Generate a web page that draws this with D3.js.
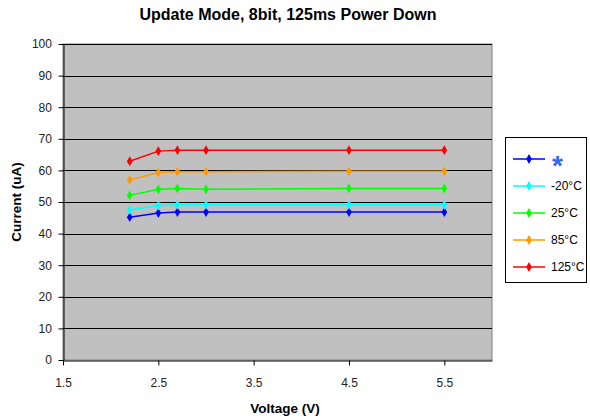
<!DOCTYPE html>
<html>
<head>
<meta charset="utf-8">
<script src="https://cdn.jsdelivr.net/npm/d3@7"></script>
<style>
  body { margin: 0; background: #fff; }
  text { font-family: "Liberation Sans", Arial, sans-serif; }
</style>
</head>
<body>
<svg id="viz" width="590" height="419"></svg>
<script>
// chart data
const voltages = [2.2, 2.5, 2.7, 3.0, 4.5, 5.5];
const seriesNames = ["*", "-20°C", "25°C", "85°C", "125°C"];
const seriesColors = ["#0000ff", "#00ffff", "#00ff00", "#ff9900", "#ff0000"];
const blueVals = [45.2, 46.5, 46.8, 46.8, 46.8, 46.8];
const cyanVals = [47.5, 48.9, 49.1, 49.1, 49.1, 49.1];
const greenVals = [52.1, 54.0, 54.3, 54.0, 54.3, 54.3];
const orangeVals = [57.0, 59.3, 59.6, 59.6, 59.7, 59.7];
const redVals = [62.9, 66.1, 66.4, 66.4, 66.4, 66.4];
const xTicks = [1.5, 2.5, 3.5, 4.5, 5.5];
const yTicks = d3.range(0, 101, 10);

const allVals = [blueVals, cyanVals, greenVals, orangeVals, redVals];

const svg = d3.select("#viz");
const m = {left: 63, top: 44, right: 492, bottom: 360};

const x = d3.scaleLinear().domain([1.5, 6]).range([m.left, m.right]);
const y = d3.scaleLinear().domain([0, 100]).range([m.bottom, m.top]);

// plot area
svg.append("rect")
  .attr("x", m.left).attr("y", m.top)
  .attr("width", m.right - m.left).attr("height", m.bottom - m.top)
  .attr("fill", "#c0c0c0")
  .attr("stroke", "#808080").attr("stroke-width", 1);

// gridlines
svg.append("g").selectAll("line")
  .data(yTicks.filter(d => d > 0))
  .enter().append("line")
  .attr("x1", m.left).attr("x2", m.right)
  .attr("y1", d => Math.round(y(d)) + 0.5).attr("y2", d => Math.round(y(d)) + 0.5)
  .attr("stroke", "#000").attr("stroke-width", 1);

// axes
const xAxis = svg.append("g")
  .attr("transform", "translate(0," + (m.bottom + 0.5) + ")")
  .call(d3.axisBottom(x).tickValues(xTicks).tickFormat(d3.format(".1f")).tickSize(5).tickSizeOuter(0));
const yAxis = svg.append("g")
  .attr("transform", "translate(" + (m.left + 0.5) + ",0)")
  .call(d3.axisLeft(y).tickValues(yTicks).tickSize(5).tickSizeOuter(0));

[xAxis, yAxis].forEach(a => {
  a.select(".domain").attr("stroke", "#000");
  a.selectAll(".tick line").attr("stroke", "#000");
  a.selectAll(".tick text").attr("font-size", 12).attr("fill", "#222")
    .attr("font-family", "'Liberation Sans', Arial, sans-serif");
});
xAxis.selectAll(".tick text").attr("dy", "1.5em");
yAxis.selectAll(".tick text").attr("dx", "-0.3em");

// series
const line = d3.line().x((d, i) => x(voltages[i])).y(d => y(d));
const diamond = d3.symbol().type(d3.symbolDiamond).size(28);

allVals.forEach((vals, k) => {
  const g = svg.append("g");
  g.append("path").datum(vals)
    .attr("d", line).attr("fill", "none")
    .attr("stroke", seriesColors[k]).attr("stroke-width", 1.5);
  g.selectAll("path.pt").data(vals).enter().append("path")
    .attr("class", "pt")
    .attr("d", diamond)
    .attr("transform", (d, i) => "translate(" + x(voltages[i]) + "," + y(d) + ")")
    .attr("fill", seriesColors[k]);
});

// title and axis labels
svg.append("text").attr("x", 288).attr("y", 20).attr("text-anchor", "middle")
  .attr("font-size", 16).attr("font-weight", "bold").text("Update Mode, 8bit, 125ms Power Down");
svg.append("text").attr("x", 285).attr("y", 413).attr("text-anchor", "middle")
  .attr("font-size", 13.5).attr("font-weight", "bold").text("Voltage (V)");
svg.append("text").attr("transform", "translate(21,202) rotate(-90)").attr("text-anchor", "middle")
  .attr("font-size", 13.5).attr("font-weight", "bold").text("Current (uA)");

// legend
const lg = svg.append("g");
lg.append("rect").attr("x", 505.5).attr("y", 137.5).attr("width", 81).attr("height", 145)
  .attr("fill", "#fff").attr("stroke", "#000").attr("stroke-width", 1);
seriesNames.forEach((name, k) => {
  const cy = 159 + k * 27;
  lg.append("line").attr("x1", 513).attr("x2", 545).attr("y1", cy).attr("y2", cy)
    .attr("stroke", seriesColors[k]).attr("stroke-width", 1.5);
  lg.append("path").attr("d", diamond).attr("transform", "translate(529," + cy + ")")
    .attr("fill", seriesColors[k]);
  const t = lg.append("text").attr("x", 551).attr("y", cy + 4).attr("font-size", 12).attr("fill", "#000").text(name);
  if (name === "*") t.attr("font-size", 28).attr("font-weight", "bold").attr("y", cy + 16).attr("x", 552).attr("fill", "#3366ee");
});
</script>
</body>
</html>
